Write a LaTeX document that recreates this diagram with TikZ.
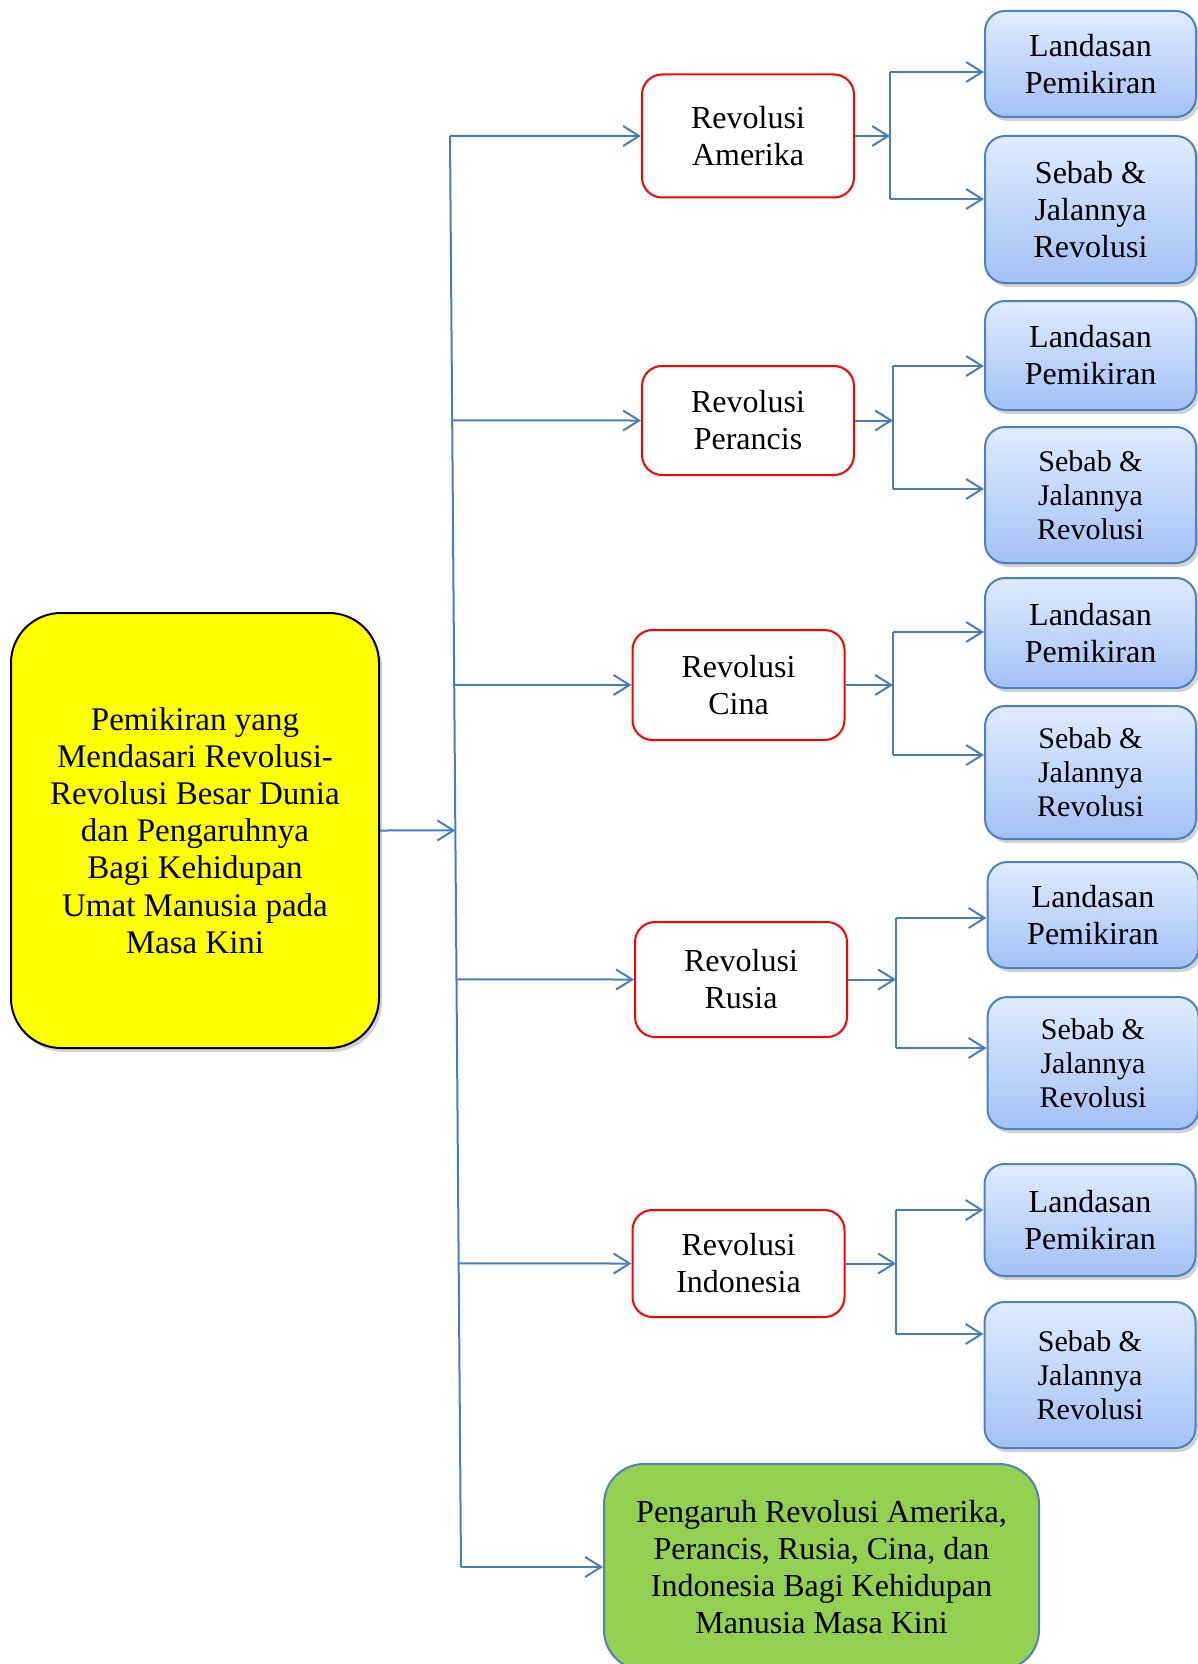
\documentclass[tikz,border=0pt]{standalone}
\usepackage{fontspec}
\setmainfont{Liberation Serif}
\usetikzlibrary{arrows.meta,shadows}
\definecolor{garis}{HTML}{4A7EBB}
\definecolor{birutepi}{HTML}{4F81BD}
\definecolor{biruatas}{HTML}{E0EBFD}
\definecolor{birubawah}{HTML}{A3C1F6}
\definecolor{hijau}{HTML}{92D050}
\definecolor{kuning}{HTML}{FFFF00}
\begin{document}
\begin{tikzpicture}[x=0.5pt, y=-0.5pt,
    >={Straight Barb[length=8pt,width=10pt]},
    every node/.style={font=\fontsize{16}{18.5}\selectfont, align=center, inner sep=2pt},
    bayang/.style={drop shadow={shadow xshift=1.5pt, shadow yshift=-2pt, opacity=0.35}},
    utama/.style={draw=black, line width=1pt, fill=kuning, rounded corners=25pt,
        minimum width=184pt, minimum height=217.5pt, bayang,
        font=\fontsize{16.5}{18.6}\selectfont},
    revolusi/.style={draw=red, line width=1pt, fill=white, rounded corners=10pt,
        minimum width=106pt},
    sub/.style={draw=birutepi, line width=1pt, top color=biruatas, bottom color=birubawah,
        rounded corners=10pt, minimum width=105.5pt, bayang},
    kecil/.style={font=\fontsize{15}{17}\selectfont},
    pengaruh/.style={draw=birutepi, line width=1pt, fill=hijau, rounded corners=20pt,
        minimum width=217.5pt, minimum height=103pt},
    garis/.style={draw=garis, line width=1pt},
    panah/.style={->, garis}]
\useasboundingbox (0,0) rectangle (1198,1664);
% Main box
\node[utama] (utama) at (195,830.5) {Pemikiran yang\\Mendasari Revolusi-\\Revolusi Besar Dunia\\dan Pengaruhnya\\Bagi Kehidupan\\Umat Manusia pada\\Masa Kini};
% Revolutions
\node[revolusi, minimum height=61.5pt] (amerika) at (748,136) {Revolusi\\Amerika};
\node[revolusi, minimum height=54.5pt] (perancis) at (748,420.5) {Revolusi\\Perancis};
\node[revolusi, minimum height=55pt] (cina) at (738.5,685) {Revolusi\\Cina};
\node[revolusi, minimum height=57.5pt] (rusia) at (741,979.5) {Revolusi\\Rusia};
\node[revolusi, minimum height=53.5pt] (indonesia) at (738.5,1263.5) {Revolusi\\Indonesia};
% Sub topics
\node[sub, minimum height=53pt] (amerika-L) at (1090.5,64) {Landasan\\Pemikiran};
\node[sub, minimum height=73.5pt] (amerika-S) at (1090.5,209.5) {Sebab \&\\Jalannya\\Revolusi};
\node[sub, minimum height=54.5pt] (perancis-L) at (1090.5,355.5) {Landasan\\Pemikiran};
\node[sub, kecil, minimum height=68pt] (perancis-S) at (1090.5,495) {Sebab \&\\Jalannya\\Revolusi};
\node[sub, minimum height=55pt] (cina-L) at (1090.5,633) {Landasan\\Pemikiran};
\node[sub, kecil, minimum height=66.5pt] (cina-S) at (1090.5,772.5) {Sebab \&\\Jalannya\\Revolusi};
\node[sub, minimum height=53pt] (rusia-L) at (1093,915) {Landasan\\Pemikiran};
\node[sub, kecil, minimum height=66pt] (rusia-S) at (1093,1063) {Sebab \&\\Jalannya\\Revolusi};
\node[sub, minimum height=56pt] (indonesia-L) at (1090,1220) {Landasan\\Pemikiran};
\node[sub, kecil, minimum height=73pt] (indonesia-S) at (1090,1375) {Sebab \&\\Jalannya\\Revolusi};
% Influence
\node[pengaruh] (pengaruh) at (821.5,1567) {Pengaruh Revolusi Amerika,\\Perancis, Rusia, Cina, dan\\Indonesia Bagi Kehidupan\\Manusia Masa Kini};
% Trunk
\coordinate (batangatas) at (450,136);
\coordinate (batangbawah) at (461,1567);
\draw[garis] (batangatas) -- (batangbawah);
\draw[panah] (utama.east) -- (intersection of batangatas--batangbawah and utama.east--utama.west);
\draw[panah] (batangbawah) -- (pengaruh.west);
% Branches
\foreach \r/\fx/\ya/\yb in {amerika/890/72/199, perancis/893/366/489, cina/893/632/755, rusia/896/918/1048, indonesia/896/1210/1334}{
    \coordinate (\r-atas) at (\fx,\ya);
    \coordinate (\r-bawah) at (\fx,\yb);
    \draw[panah] (intersection of batangatas--batangbawah and \r.west--\r.east) -- (\r.west);
    \draw[panah] (\r.east) -- (\r.east -| \r-atas);
    \draw[garis] (\r-atas) -- (\r-bawah);
    \draw[panah] (\r-atas) -- (\r-atas -| \r-L.west);
    \draw[panah] (\r-bawah) -- (\r-bawah -| \r-S.west);
}
\end{tikzpicture}
\end{document}
